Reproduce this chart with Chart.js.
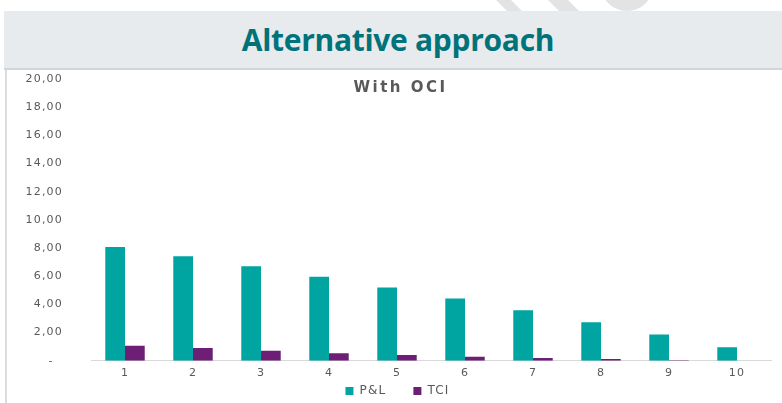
<!DOCTYPE html>
<html>
<head>
<meta charset="utf-8">
<script src="https://cdn.jsdelivr.net/npm/chart.js@4/dist/chart.umd.min.js"></script>
<style>
  html, body { margin: 0; padding: 0; background: #ffffff; }
  body { width: 782px; height: 403px; position: relative; overflow: hidden; }
  .wm { position: absolute; background: #e3e3e3; }
  #wm1 { left: 496px; top: 0px; width: 15px; height: 12px; transform-origin: 0 0; transform: skewX(45deg); }
  #wm2 { left: 548px; top: 0px; width: 20px; height: 12px; transform-origin: 0 0; transform: skewX(45deg); }
  #wm3 { left: 601px; top: -41px; width: 52px; height: 52px; border-radius: 50%; }
  #header {
    position: absolute; left: 4px; top: 11px; width: 778px; height: 57px;
    background: #e8ebee; border-bottom: 2px solid #d3d6d9;
    display: flex; align-items: center; justify-content: center;
  }
  #header h1 {
    margin: 0; font-family: "Open Sans", sans-serif;
    font-weight: bold; font-size: 30px; color: #00727a; letter-spacing: -0.3px;
    position: relative; left: 5px; top: 0px;
  }
  #wrap {
    position: absolute; left: 5px; top: 70px; width: 777px; height: 333px;
    border-left: 2px solid #dcdcdc; box-sizing: border-box;
  }
</style>
</head>
<body>
<div class="wm" id="wm1"></div>
<div class="wm" id="wm2"></div>
<div class="wm" id="wm3"></div>
<div id="header"><h1>Alternative approach</h1></div>
<div id="wrap"><canvas id="c"></canvas></div>
<script>
const categories = ["1", "2", "3", "4", "5", "6", "7", "8", "9", "10"];
const pnlValues = [8.08, 7.42, 6.71, 5.96, 5.20, 4.43, 3.58, 2.73, 1.86, 0.97];
const tciValues = [1.06, 0.90, 0.71, 0.54, 0.42, 0.28, 0.19, 0.12, 0.04, 0.00];
const yTicks = [0, 2, 4, 6, 8, 10, 12, 14, 16, 18, 20];
const chartTitle = "With OCI";
const seriesNames = ["P&L", "TCI"];

const grey = "#595959";
const tickFont = { family: "DejaVu Sans", size: 11 };

const wideText = {
  id: "wideText",
  beforeUpdate(chart) { chart.ctx.letterSpacing = "1.2px"; },
  beforeDraw(chart) { chart.ctx.letterSpacing = "1.2px"; }
};

const overlayTitle = {
  id: "overlayTitle",
  afterDraw(chart) {
    const ctx = chart.ctx;
    const area = chart.chartArea;
    ctx.save();
    ctx.letterSpacing = "2.5px";
    ctx.font = "bold 15px 'DejaVu Sans'";
    ctx.fillStyle = grey;
    ctx.textAlign = "center";
    ctx.textBaseline = "middle";
    ctx.fillText(chartTitle, chart.width / 2 + 6, area.top + 9);
    ctx.restore();
  }
};

new Chart(document.getElementById("c"), {
  type: "bar",
  data: {
    labels: categories,
    datasets: [
      { label: seriesNames[0], data: pnlValues, backgroundColor: "#00a5a2",
        categoryPercentage: 0.58, barPercentage: 1.0 },
      { label: seriesNames[1], data: tciValues, backgroundColor: "#6c1f74",
        categoryPercentage: 0.58, barPercentage: 1.0 }
    ]
  },
  plugins: [wideText, overlayTitle],
  options: {
    responsive: true,
    maintainAspectRatio: false,
    animation: false,
    layout: { padding: { left: 17, right: 11, top: 9, bottom: -4 } },
    plugins: {
      title: { display: false },
      legend: {
        position: "bottom",
        labels: {
          color: grey, font: { family: "DejaVu Sans", size: 12 },
          boxWidth: 8, boxHeight: 8, padding: 7,
          generateLabels: (chart) => {
            const items = Chart.defaults.plugins.legend.labels.generateLabels(chart);
            items.forEach((it, i) => { if (i < items.length - 1) it.text = it.text + "    "; });
            return items;
          }
        }
      },
      tooltip: { enabled: false }
    },
    scales: {
      x: {
        grid: { display: false },
        border: { display: true, color: "#d9d9d9", width: 1 },
        ticks: { color: grey, font: tickFont, padding: -2 }
      },
      y: {
        min: 0, max: 20,
        afterBuildTicks: (scale) => { scale.ticks = yTicks.map(v => ({ value: v })); },
        afterFit: (scale) => { scale.width = 67; scale.paddingTop = 0; scale.paddingBottom = 0; },
        grid: { display: false },
        border: { display: false },
        ticks: {
          color: grey, font: tickFont, padding: 20,
          callback: (v) => v === 0 ? "-  " : v.toFixed(2).replace(".", ",")
        }
      }
    }
  }
});
</script>
</body>
</html>
